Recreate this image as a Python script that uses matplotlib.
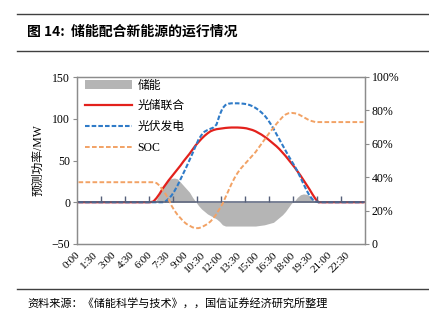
import numpy as np
import matplotlib
matplotlib.use("Agg")
import matplotlib.pyplot as plt
from matplotlib.lines import Line2D
from matplotlib.ticker import FixedLocator, FuncFormatter

plt.rcParams['font.family'] = ['Liberation Serif', 'Noto Sans CJK SC', 'DejaVu Sans']
plt.rcParams['axes.unicode_minus'] = True

# 15-minute samples, 0:00 .. 23:45
time_labels = ['0:00', '1:30', '3:00', '4:30', '6:00', '7:30', '9:00', '10:30',
               '12:00', '13:30', '15:00', '16:30', '18:00', '19:30', '21:00', '22:30']

# 储能 (MW)
storage = ([0] * 24 +
           [0, 0, 3, 10,
            17, 23, 27, 28.5,
            29, 28, 24, 20,
            16, 12, 6, 1,
            -4, -8, -11, -14,
            -16, -18, -20, -23,
            -27, -28.5, -28.5, -28.5,
            -28.5, -28.5, -28.5, -28.5,
            -28.5, -28.5, -28.5, -28.5,
            -28, -27.5, -27, -26,
            -25, -24, -21, -18,
            -15, -11, -6, -1,
            1.5, 6, 9, 10,
            9.5, 8, 4, 0] +
           [0] * 16)

# 光储联合 (MW)
combined = ([0] * 24 +
            [0, 1, 5, 10,
             16, 21, 26, 30.5,
             35, 39.5, 44, 49,
             53.5, 58, 63, 68,
             72, 76, 79.5, 82.5,
             85, 86.5, 87.5, 88,
             88.5, 89, 89.3, 89.5,
             89.5, 89.5, 89.3, 89,
             88.5, 87.5, 86.5, 85,
             83, 81, 78.5, 76,
             73, 70, 67, 63.5,
             59.5, 55.5, 51, 46.5,
             42, 37, 32, 26.5,
             21, 15.5, 9.5, 4] +
            [0] * 16)

# 光伏发电 (MW)
pv = ([0] * 28 +
      [0, 1, 4, 8,
       13.5, 20, 27.5, 35,
       42.5, 50.5, 58.5, 67,
       75, 80.5, 84.5, 86.5,
       88, 89.5, 93, 104,
       112.5, 116.5, 118, 118.5,
       118.5, 118.5, 118.3, 118,
       117.5, 116.5, 115, 113,
       110.5, 107.5, 104, 99.5,
       94, 88, 81.5, 75,
       68.5, 62, 55.5, 49.5,
       43.5, 37, 29.5, 22,
       14.5, 8, 3.5, 1] +
      [0] * 16)

# SOC (%)
soc = ([37] * 24 +
       [37, 37, 36.5, 35,
        32.5, 30, 27, 23,
        20, 17.5, 15.5, 13.5,
        12, 11, 10, 9.5,
        9.5, 10, 11, 12,
        13.5, 15.5, 18, 21,
        24, 28, 32, 36,
        39.5, 42.5, 45, 47,
        49, 51, 53, 55,
        57.5, 60, 62.5, 65,
        67.5, 69.5, 72, 74,
        76, 77.5, 78.3, 78.5,
        78.3, 78, 77, 76,
        75, 74, 73.5, 73] +
       [73] * 16)

x = np.arange(len(storage))
frame_color = '#8c8c8c'

fig = plt.figure(figsize=(4.29, 3.23), dpi=100)
ax = fig.add_axes([77 / 429, 1 - 244 / 323, 288 / 429, 167 / 323])
ax2 = ax.twinx()

fill = ax.fill_between(x, 0, storage, color='#b5b5b5', linewidth=0, label='储能', zorder=1)
l_comb, = ax.plot(x, combined, color='#e3211c', lw=1.6, label='光储联合', zorder=3)
l_pv, = ax.plot(x, pv, color='#2f7bc8', lw=1.5, ls=(0, (2.2, 1.0)), label='光伏发电', zorder=4)
l_soc, = ax2.plot(x, soc, color='#f2a265', lw=1.4, ls=(0, (2.4, 1.2)), label='SOC', zorder=3)

# horizontal category axis crossing at zero, tick marks every 2 hours
ax.axhline(0, color='#56607a', lw=1.1, zorder=5)
ax.plot(np.arange(8, 96, 8) - 0.5, np.zeros(11), ls='none', marker=2,
        markersize=4, color='#56607a', zorder=5)

ax.set_xlim(-0.5, 95.5)
ax.set_ylim(-50, 150)
ax.set_yticks([-50, 0, 50, 100, 150])
ax.set_xticks(np.arange(0, 96, 6))
ax.set_xticklabels(time_labels, rotation=45, ha='right', va='center',
                   rotation_mode='anchor', fontsize=8)
ax.tick_params(axis='x', length=0, pad=7)
ax.tick_params(axis='y', length=3, width=0.8, color=frame_color, pad=2, labelsize=8.5)
ax.set_ylabel('预测功率/MW', fontsize=8.5, labelpad=5)

ax2.set_ylim(0, 100)
ax2.set_yticks([0, 20, 40, 60, 80, 100])
ax2.yaxis.set_major_formatter(FuncFormatter(lambda v, p: '0' if v == 0 else f'{v:.0f}%'))
ax2.tick_params(axis='y', length=3, width=0.8, color=frame_color, pad=2, labelsize=8.5)

for a in (ax, ax2):
    for s in a.spines.values():
        s.set_color(frame_color)
        s.set_linewidth(0.9)

ax2.legend([fill, l_comb, l_pv, l_soc], ['储能', '光储联合', '光伏发电', 'SOC'],
           loc='upper left', bbox_to_anchor=(0.028, 0.985), frameon=False,
           fontsize=8.5, handlelength=4.0, handletextpad=0.45,
           labelspacing=0.75, borderaxespad=0, borderpad=0)

# header / footer
for yy in (14, 50.5, 289):
    fig.add_artist(Line2D([17 / 429, 1], [1 - yy / 323] * 2, transform=fig.transFigure,
                          color='#404040', lw=1.0))
fig.text(27 / 429, 1 - 32 / 323, '图 14:  储能配合新能源的运行情况', fontsize=10,
         fontweight='bold', va='center', ha='left', family=['Noto Sans CJK SC'])
fig.text(27 / 429, 1 - 303 / 323, '资料来源：《储能科学与技术》，，国信证券经济研究所整理',
         fontsize=8, va='center', ha='left', family=['Noto Sans CJK SC'])

fig.savefig('out.png', dpi=100)
